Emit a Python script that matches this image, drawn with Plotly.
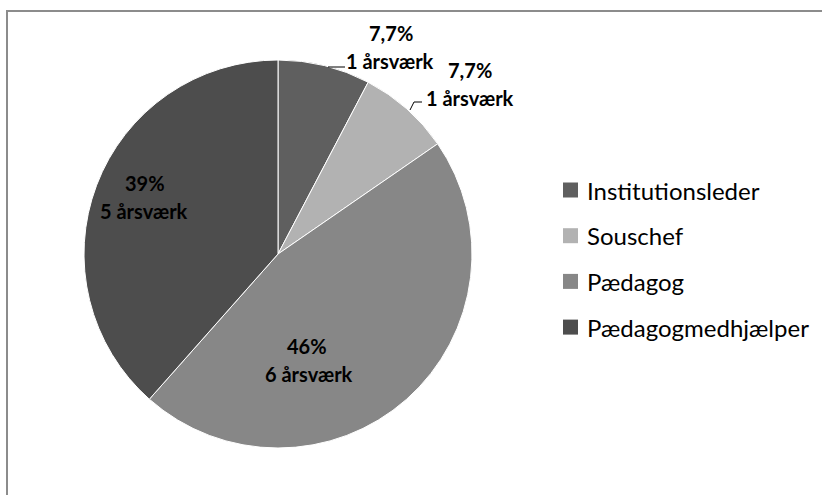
import plotly.graph_objects as go

# Staffing (årsværk) by role
roles = ["Institutionsleder", "Souschef", "Pædagog", "Pædagogmedhjælper"]
aarsvaerk = [1, 1, 6, 5]
pct_labels = ["7,7%", "7,7%", "46%", "39%"]
colors = ["#5f5f5f", "#b2b2b2", "#878787", "#4d4d4d"]

W, H = 822, 495


def px(x):
    return x / W


def py(y):
    return 1 - y / H


fig = go.Figure()
fig.add_trace(go.Pie(
    labels=roles,
    values=aarsvaerk,
    sort=False,
    direction="clockwise",
    rotation=0,
    marker=dict(colors=colors, line=dict(color="#ffffff", width=1)),
    textinfo="none",
    hoverinfo="label+value+percent",
    showlegend=False,
    domain=dict(x=[px(84), px(472)], y=[py(448), py(60)]),
))

label_font = dict(family="Lato", size=20, color="#000000")
# (pct x, pct y, value x, value y) in pixels for each slice label
label_pos = [
    (391, 33, 390, 61),
    (470, 70, 470, 98),
    (307, 346, 309, 374),
    (145, 183, 144, 211),
]
annotations = []
for pct, val, (x1, y1, x2, y2) in zip(pct_labels, aarsvaerk, label_pos):
    annotations.append(dict(x=px(x1), y=py(y1), xref="paper", yref="paper",
                            text=f"<b>{pct}</b>", showarrow=False,
                            font=label_font, xanchor="center", yanchor="middle"))
    annotations.append(dict(x=px(x2), y=py(y2), xref="paper", yref="paper",
                            text=f"<b>{val} årsværk</b>", showarrow=False,
                            font=label_font, xanchor="center", yanchor="middle"))

# Legend drawn as swatches plus text
shapes = []
legend_y0, legend_dy = 190, 45.7
for i, (role, col) in enumerate(zip(roles, colors)):
    cy = legend_y0 + i * legend_dy
    shapes.append(dict(type="rect", xref="paper", yref="paper",
                       x0=px(563), x1=px(578), y0=py(cy - 7.5), y1=py(cy + 7.5),
                       fillcolor=col, line=dict(width=0)))
    annotations.append(dict(x=px(585), y=py(cy), xref="paper", yref="paper",
                            text=role, showarrow=False,
                            font=dict(family="Lato", size=24, color="#000000"),
                            xanchor="left", yanchor="middle"))

# Leader lines for the two small outside labels
shapes.append(dict(type="line", xref="paper", yref="paper",
                   x0=px(328), y0=py(67), x1=px(345), y1=py(67),
                   line=dict(color="#000000", width=1)))
shapes.append(dict(type="path", xref="paper", yref="paper",
                   path=f"M {px(410)},{py(110)} L {px(414)},{py(102)} L {px(422)},{py(102)}",
                   line=dict(color="#000000", width=1)))

# Chart frame: left and top edges
frame = dict(color="#8c8c8c", width=2)
shapes.append(dict(type="line", xref="paper", yref="paper",
                   x0=px(7), y0=py(11), x1=px(7), y1=py(H), line=frame))
shapes.append(dict(type="line", xref="paper", yref="paper",
                   x0=px(6), y0=py(11), x1=px(W), y1=py(11), line=frame))

fig.update_layout(
    width=W, height=H,
    margin=dict(l=0, r=0, t=0, b=0),
    paper_bgcolor="#ffffff",
    plot_bgcolor="#ffffff",
    annotations=annotations,
    shapes=shapes,
)

fig.write_html("out.html")
